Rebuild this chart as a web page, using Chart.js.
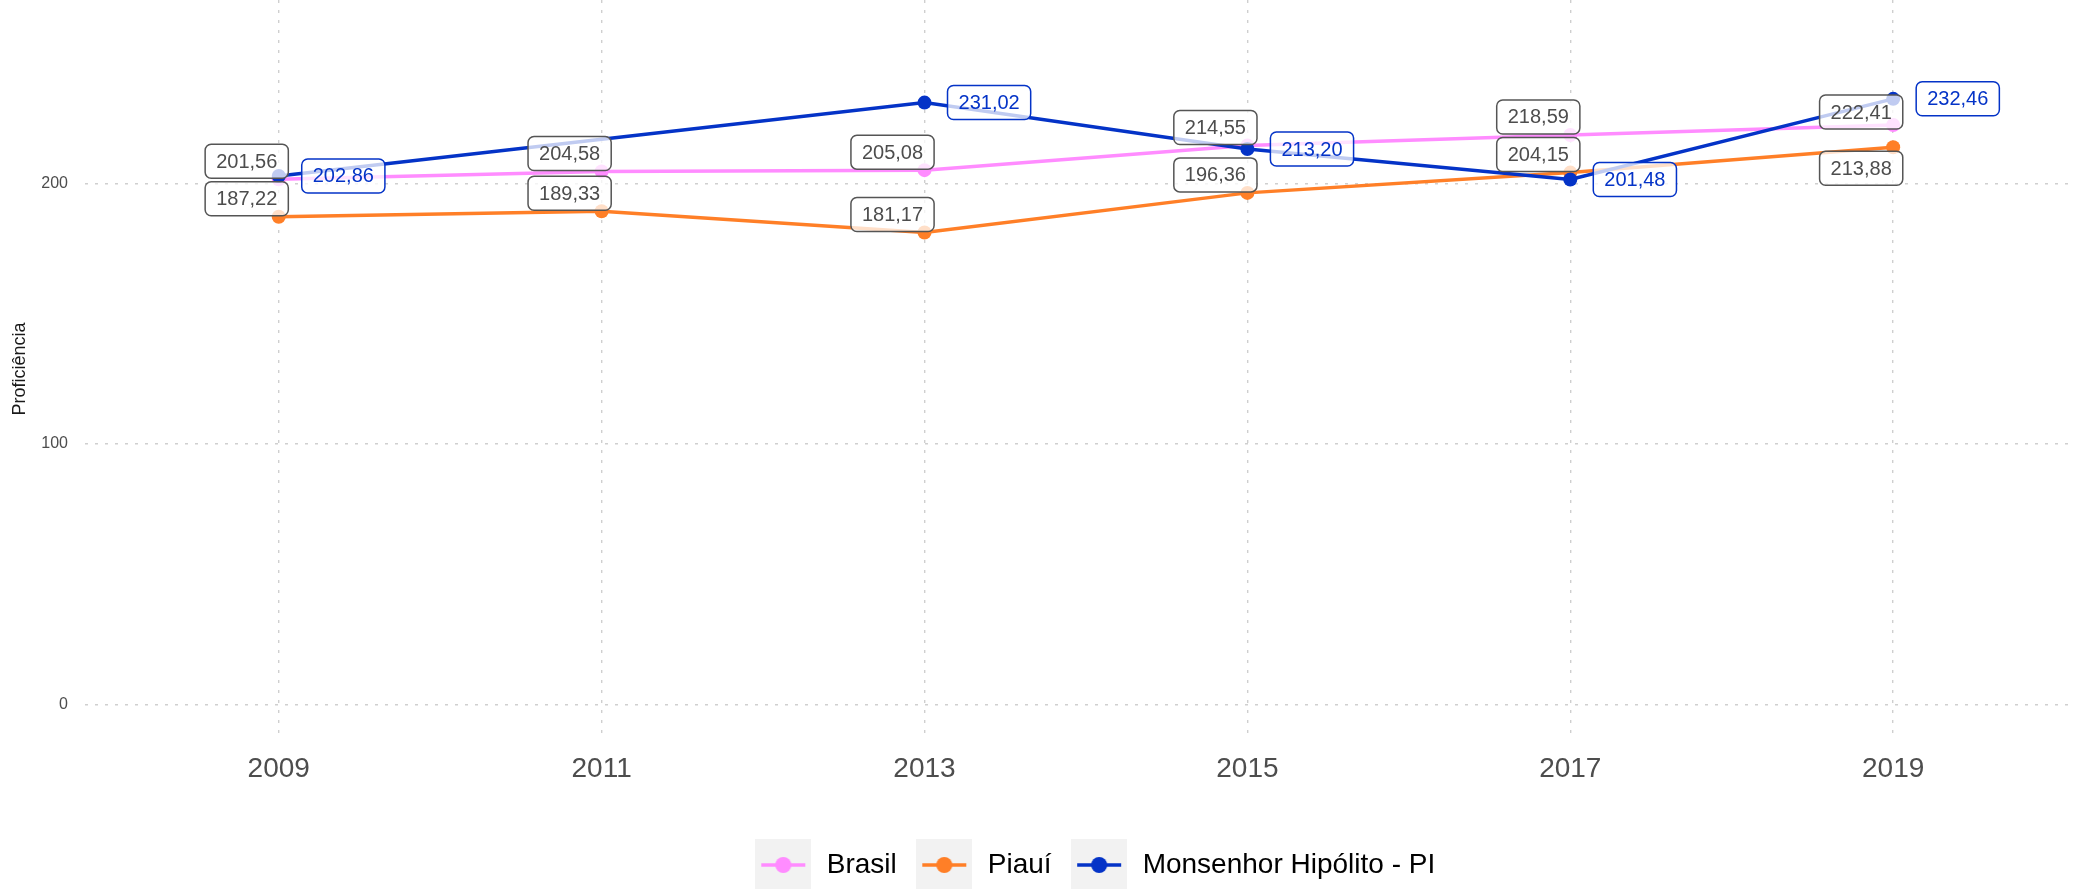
<!DOCTYPE html>
<html><head><meta charset="utf-8">
<script src="https://cdn.jsdelivr.net/npm/chart.js@4"></script>
<style>html,body{margin:0;padding:0;background:#fff;overflow:hidden}</style>
</head><body>
<canvas id="c" width="2076" height="889" style="display:block;width:2076px;height:889px"></canvas>
<script>
// ---- data ----
const years = [2009, 2011, 2013, 2015, 2017, 2019];
const brasil = [201.56, 204.58, 205.08, 214.55, 218.59, 222.41];
const piaui = [187.22, 189.33, 181.17, 196.36, 204.15, 213.88];
const monsenhor = [202.86, null, 231.02, 213.20, 201.48, 232.46];
const yTicks = [0, 100, 200];
const seriesNames = ['Brasil', 'Piauí', 'Monsenhor Hipólito - PI'];
const seriesValues = [brasil, piaui, monsenhor];
const seriesColors = ['#ff8cff', '#ff7f27', '#0433c7'];
const yTitle = 'Proficiência';

const FONT = '"Liberation Sans", Arial, Helvetica, sans-serif';

// label placement styles (per series), with per-point exceptions
const labelStyles = [
  { kind: 'left', vert: 'above', text: '#4d4d4d', border: '#555555', except: { 5: 'mid' } },
  { kind: 'left', vert: 'above', text: '#4d4d4d', border: '#555555', except: { 5: 'below' } },
  { kind: 'right', vert: 'center', text: '#0433c7', border: '#0433c7', except: {} }
];

function fmt(v) { return v.toFixed(2).replace('.', ','); }

function makeIcon(color) {
  const c = document.createElement('canvas');
  c.width = 56; c.height = 52;
  const g = c.getContext('2d');
  g.fillStyle = '#f2f2f2';
  g.fillRect(0, 0, 56, 52);
  g.strokeStyle = color; g.lineWidth = 3.5;
  g.beginPath(); g.moveTo(6, 26); g.lineTo(50, 26); g.stroke();
  g.fillStyle = color;
  g.beginPath(); g.arc(28, 26, 8, 0, Math.PI * 2); g.fill();
  return c;
}
const legendIcons = seriesColors.map(makeIcon);

function rrect(ctx, x, y, w, h, r) {
  ctx.beginPath();
  ctx.moveTo(x + r, y);
  ctx.lineTo(x + w - r, y);
  ctx.arcTo(x + w, y, x + w, y + r, r);
  ctx.lineTo(x + w, y + h - r);
  ctx.arcTo(x + w, y + h, x + w - r, y + h, r);
  ctx.lineTo(x + r, y + h);
  ctx.arcTo(x, y + h, x, y + h - r, r);
  ctx.lineTo(x, y + r);
  ctx.arcTo(x, y, x + r, y, r);
  ctx.closePath();
}

const labelPlugin = {
  id: 'valueLabels',
  afterDatasetsDraw(chart) {
    const ctx = chart.ctx;
    ctx.save();
    ctx.font = '20px ' + FONT;
    ctx.textAlign = 'center';
    ctx.textBaseline = 'middle';
    chart.data.datasets.forEach((ds, di) => {
      const meta = chart.getDatasetMeta(di);
      const st = labelStyles[di];
      meta.data.forEach((pt, i) => {
        const v = ds.data[i].y;
        if (v == null) return;
        const text = fmt(v);
        const tw = ctx.measureText(text).width;
        const w = tw + 22, h = 34;
        const px = pt.x, py = pt.y;
        let cx, cy;
        const vert = st.except[i] || st.vert;
        if (st.kind === 'left') cx = px - 32; else cx = px + 23 + w / 2;
        if (vert === 'above') cy = py - 18;
        else if (vert === 'mid') cy = py - 13;
        else if (vert === 'below') cy = py + 21;
        else cy = py;
        rrect(ctx, cx - w / 2, cy - h / 2, w, h, 6);
        ctx.fillStyle = 'rgba(255,255,255,0.75)';
        ctx.fill();
        ctx.lineWidth = 1.5;
        ctx.strokeStyle = st.border;
        ctx.stroke();
        ctx.fillStyle = st.text;
        ctx.fillText(text, cx, cy + 1);
      });
    });
    ctx.restore();
  }
};

// shift the legend block slightly right (ggplot centres it a bit differently)
const legendShift = {
  id: 'legendShift',
  afterLayout(chart) {
    if (chart.legend) { chart.legend.left += 15; chart.legend.right += 15; }
  }
};

const datasets = seriesNames.map((name, i) => ({
  label: name,
  data: years.map((x, k) => ({ x: x, y: seriesValues[i][k] })),
  borderColor: seriesColors[i],
  backgroundColor: seriesColors[i],
  pointBackgroundColor: seriesColors[i],
  pointBorderWidth: 0,
  pointRadius: 7,
  pointHoverRadius: 7,
  borderWidth: 3.5,
  tension: 0,
  spanGaps: true,
  order: 3 - i
}));

const gridCfg = { color: '#cfcfcf', lineWidth: 1.4, drawTicks: false };

new Chart(document.getElementById('c'), {
  type: 'line',
  data: { datasets },
  options: {
    responsive: false,
    animation: false,
    devicePixelRatio: 1,
    layout: { autoPadding: false, padding: { left: 0, right: 2, top: 0, bottom: 0 } },
    scales: {
      x: {
        type: 'linear',
        min: 2007.8,
        max: 2020.12,
        border: { display: false, dash: [3, 7] },
        grid: gridCfg,
        afterBuildTicks: (s) => { s.ticks = years.map(v => ({ value: v })); },
        afterFit: (s) => { s.height = 95; s.paddingLeft = 0; s.paddingRight = 0; },
        ticks: {
          padding: 14,
          color: '#4d4d4d',
          font: { family: FONT, size: 28 },
          callback: (v) => String(v),
          maxRotation: 0,
          autoSkip: false
        }
      },
      y: {
        type: 'linear',
        min: -12.9,
        max: 270.4,
        border: { display: false, dash: [3, 7] },
        grid: gridCfg,
        afterBuildTicks: (s) => { s.ticks = yTicks.map(v => ({ value: v })); },
        afterFit: (s) => { s.width = 85; s.paddingTop = 0; s.paddingBottom = 0; },
        ticks: {
          padding: 17,
          color: '#4d4d4d',
          font: { family: FONT, size: 16 },
          callback: (v) => String(v)
        },
        title: {
          display: true,
          text: yTitle,
          color: '#1a1a1a',
          font: { family: FONT, size: 18 },
          padding: { top: 9, bottom: 0 }
        }
      }
    },
    plugins: {
      tooltip: { enabled: false },
      legend: {
        position: 'bottom',
        fullSize: false,
        labels: {
          usePointStyle: true,
          pointStyleWidth: 59,
          padding: 18,
          color: '#000',
          font: { family: FONT, size: 28 },
          generateLabels: (chart) => chart.data.datasets.map((ds, i) => ({
            text: ds.label,
            pointStyle: legendIcons[i],
            fillStyle: 'transparent',
            strokeStyle: 'transparent',
            lineWidth: 0,
            hidden: false,
            datasetIndex: i,
            fontColor: '#000'
          }))
        }
      }
    }
  },
  plugins: [labelPlugin, legendShift]
});
</script>
</body></html>
